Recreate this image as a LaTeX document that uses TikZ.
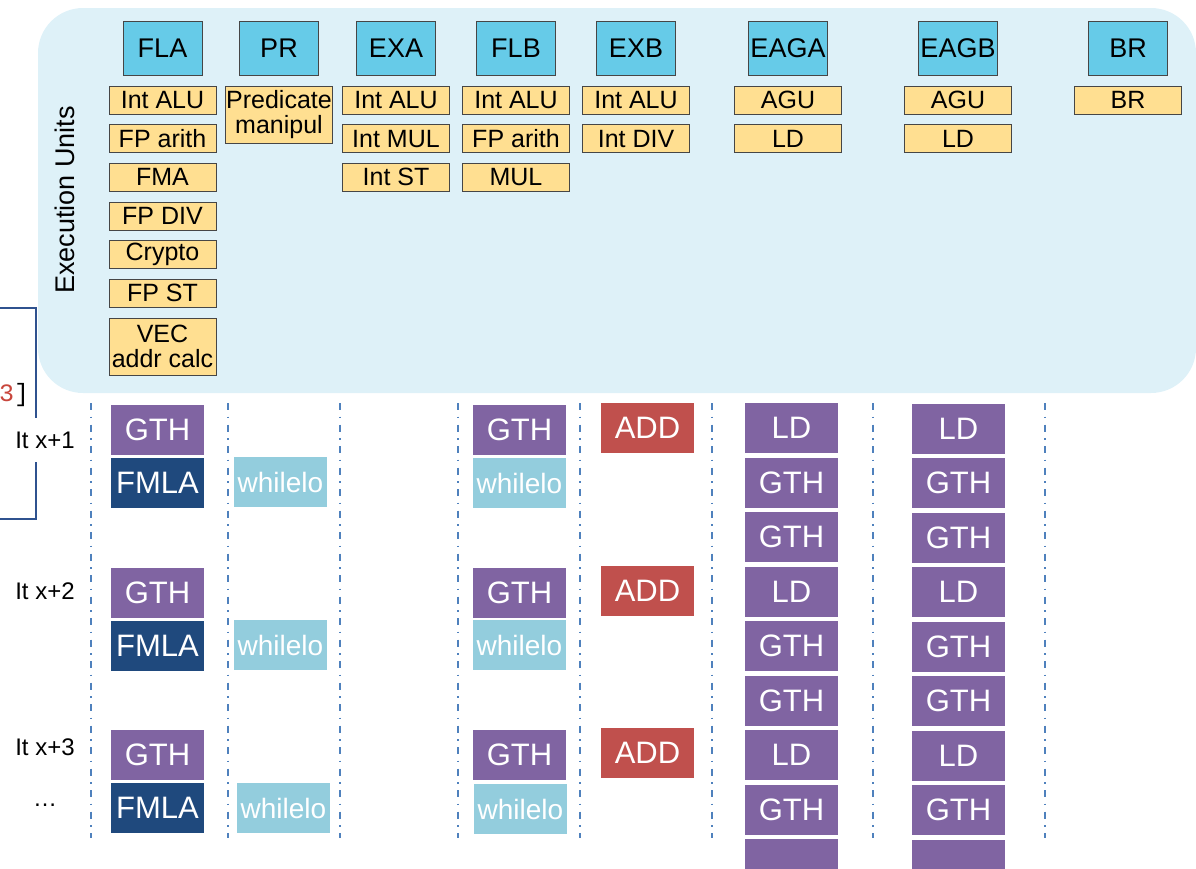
\documentclass[tikz,border=0pt]{standalone}
\usepackage{fontspec}
\setmainfont{Liberation Sans}
\newfontfamily\codefont{Liberation Mono}
\usetikzlibrary{positioning}
\definecolor{panelblue}{RGB}{222,241,248}
\definecolor{headblue}{RGB}{102,203,232}
\definecolor{unityellow}{RGB}{255,223,145}
\definecolor{boxgrey}{RGB}{70,70,70}
\definecolor{gthpurple}{RGB}{128,100,162}
\definecolor{fmlanavy}{RGB}{31,73,125}
\definecolor{whilecyan}{RGB}{147,205,221}
\definecolor{addred}{RGB}{192,80,77}
\definecolor{lanedash}{RGB}{79,129,189}
\definecolor{bracketnavy}{RGB}{47,82,143}
\definecolor{codered}{RGB}{200,70,60}

\begin{document}
\begin{tikzpicture}[x=1pt,y=-1pt,
    unithead/.style={draw=boxgrey,fill=headblue,minimum width=79pt,minimum height=54pt,
      inner sep=0pt,font=\fontsize{27}{30}\selectfont},
    opunit/.style={draw=boxgrey,fill=unityellow,minimum width=107pt,minimum height=28pt,
      inner sep=0pt,font=\fontsize{25}{25}\selectfont},
    instr/.style={minimum width=93pt,minimum height=50pt,inner sep=0pt,text=white,
      font=\fontsize{31}{34}\selectfont},
    gthop/.style={instr,fill=gthpurple},
    fmlaop/.style={instr,fill=fmlanavy},
    whileop/.style={instr,fill=whilecyan,font=\fontsize{28}{30}\selectfont},
    addop/.style={instr,fill=addred},
    iterlabel/.style={fill=white,inner xsep=4pt,inner ysep=14pt,font=\fontsize{24}{26}\selectfont},
    laneline/.style={lanedash,line width=2pt,dash pattern=on 7pt off 6.5pt on 1.5pt off 6.5pt}]
  \clip (0,0) rectangle (1196,868);

  % execution units panel
  \fill[panelblue,rounded corners=45pt] (38,8) rectangle (1196,393);
  \node[rotate=90,font=\fontsize{27}{30}\selectfont] (execunits) at (65,200) {Execution Units};

  \foreach \n/\x in {FLA/162.5,PR/279,EXA/396,FLB/516,EXB/636,EAGA/788,EAGB/958,BR/1128}
    \node[unithead] (h\n) at (\x,48) {\n};

  \foreach \t [count=\i] in {Int ALU,FP arith,FMA,FP DIV,Crypto,FP ST}
    \node[opunit] (fla\i) at (162.5,{100+(\i-1)*38.6}) {\t};
  \node[opunit,minimum height=57pt,align=center] (fla7) at (162.5,346.5) {VEC\\addr calc};
  \node[opunit,minimum height=57pt,align=center] (pr1) at (279,114.5) {Predicate\\manipul};
  \foreach \t [count=\i] in {Int ALU,Int MUL,Int ST}
    \node[opunit] (exa\i) at (396,{100+(\i-1)*38.6}) {\t};
  \foreach \t [count=\i] in {Int ALU,FP arith,MUL}
    \node[opunit] (flb\i) at (516,{100+(\i-1)*38.6}) {\t};
  \foreach \t [count=\i] in {Int ALU,Int DIV}
    \node[opunit] (exb\i) at (636,{100+(\i-1)*38.6}) {\t};
  \foreach \t [count=\i] in {AGU,LD}
    \node[opunit] (eaga\i) at (788,{100+(\i-1)*38.6}) {\t};
  \foreach \t [count=\i] in {AGU,LD}
    \node[opunit] (eagb\i) at (958,{100+(\i-1)*38.6}) {\t};
  \node[opunit] (br1) at (1128,100) {BR};

  % pipeline lanes
  \foreach \x in {91,228,340,458,580,712,873,1045}
    \draw[laneline] (\x,403) -- (\x,838);

  % cut-off code and bracket on the left
  \node[anchor=west,inner sep=0pt,font=\codefont\fontsize{25}{26}\selectfont] (codefrag) at (-1,395)
    {\textcolor{codered}{3}]};
  \coordinate (brtop) at (0,308);
  \coordinate (brbot) at (0,519);
  \draw[bracketnavy,line width=2pt] (brtop) -- (36,308) -- (36,519) -- (brbot);

  \node[iterlabel] (it1) at (45,440) {It x+1};
  \node[iterlabel] (it2) at (45,591) {It x+2};
  \node[iterlabel] (it3) at (45,747) {It x+3};
  \node[iterlabel] (itmore) at (45,805) {\dots};

  % FLA / PR / FLB / EXB slots
  \foreach \y [count=\i] in {430,593,755} {
    \node[gthop] (flagth\i) at (157.5,\y) {GTH};
    \node[fmlaop] (flafmla\i) at (157.5,\y+52.5) {FMLA};
    \node[gthop] (flbgth\i) at (519.5,\y) {GTH};
    \node[addop] (exbadd\i) at (647.5,\y-2) {ADD};
  }
  \node[whileop] (prwhile1) at (280.5,482) {whilelo};
  \node[whileop] (prwhile2) at (280.5,645) {whilelo};
  \node[whileop] (prwhile3) at (283.5,808) {whilelo};
  \node[whileop] (flbwhile1) at (519.5,483) {whilelo};
  \node[whileop] (flbwhile2) at (519.5,645) {whilelo};
  \node[whileop] (flbwhile3) at (520.5,809) {whilelo};

  % load units
  \foreach \t [count=\i] in {LD,GTH,GTH,LD,GTH,GTH,LD,GTH,{}} {
    \node[gthop] (eagaop\i) at (791.5,{428+(\i-1)*54.5}) {\t};
    \node[gthop] (eagbop\i) at (958.5,{428.5+(\i-1)*54.5}) {\t};
  }
\end{tikzpicture}
\end{document}
